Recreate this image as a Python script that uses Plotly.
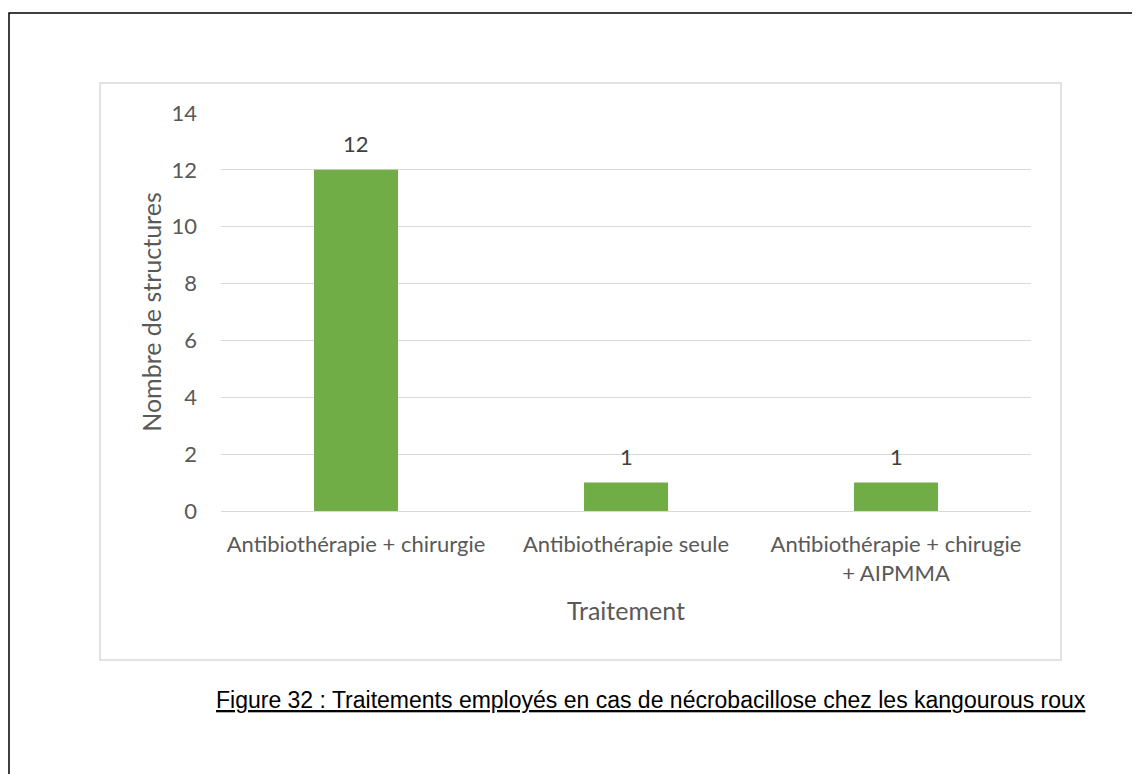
import plotly.graph_objects as go

categories = ["Antibiothérapie + chirurgie", "Antibiothérapie seule", "Antibiothérapie + chirugie<br>+ AIPMMA"]
values = [12, 1, 1]
y_ticks = [0, 2, 4, 6, 8, 10, 12, 14]

W, H = 1140, 774
OFF = 8  # browser default body margin
# plot area in reference (page) pixel coordinates
L, R, T, B = 221, 1031, 113, 511

def px(x):
    return (x - L) / (R - L)

def py(y):
    return (B - y) / (B - T)

FONT = "Lato"
fig = go.Figure(go.Bar(
    x=categories, y=values,
    marker=dict(color="#70ad47", line=dict(width=0)),
    hoverinfo="x+y",
))

annotations = [
    dict(x=c, y=v, xref="x", yref="y", text=str(v), showarrow=False,
         xanchor="center", yanchor="middle", yshift=26,
         font=dict(family=FONT, size=22, color="#404040"))
    for c, v in zip(categories, values)
]
annotations.append(
    dict(text="<u>Figure 32 : Traitements employés en cas de nécrobacillose chez les kangourous roux</u>",
         xref="paper", yref="paper", x=px(651), y=py(700), showarrow=False,
         xanchor="center", yanchor="middle",
         font=dict(family="Liberation Sans", size=23, color="#000000"))
)

fig.update_layout(
    width=W, height=H,
    margin=dict(l=L - OFF, r=W - (R - OFF), t=T - OFF, b=H - (B - OFF)),
    paper_bgcolor="white", plot_bgcolor="white",
    bargap=0.689,
    showlegend=False,
    font=dict(family=FONT, color="#595959"),
    xaxis=dict(
        showgrid=False, showline=True, linecolor="#d9d9d9", linewidth=1,
        tickfont=dict(family=FONT, size=22, color="#595959"),
        ticks="", ticklabelstandoff=14,
        title=dict(text="Traitement", font=dict(family=FONT, size=25, color="#595959"), standoff=17),
    ),
    yaxis=dict(
        range=[0, 14], tickvals=y_ticks, showgrid=True, gridcolor="#d9d9d9", gridwidth=1,
        zeroline=False, showline=False,
        tickfont=dict(family=FONT, size=22, color="#595959"),
        ticks="", ticklabelstandoff=23,
        title=dict(text="Nombre de structures", font=dict(family=FONT, size=25, color="#595959"), standoff=2),
    ),
    shapes=[
        dict(type="rect", xref="paper", yref="paper",
             x0=px(100), x1=px(1061), y0=py(660), y1=py(83),
             line=dict(color="#d9d9d9", width=1.5), fillcolor="rgba(0,0,0,0)", layer="below"),
        dict(type="rect", xref="paper", yref="paper",
             x0=px(9), x1=px(1170), y0=py(800), y1=py(13),
             line=dict(color="#000000", width=1.5), fillcolor="rgba(0,0,0,0)", layer="below"),
    ],
    annotations=annotations,
)

fig.write_html("out.html")
